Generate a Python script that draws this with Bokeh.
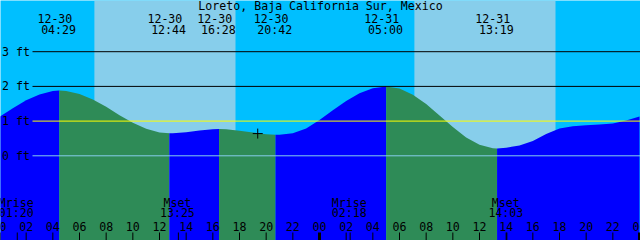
from bokeh.plotting import figure
from bokeh.models import Range1d
from bokeh.embed import file_html
from bokeh.resources import INLINE
from bokeh.core.properties import value

# ---------------- data ----------------
title = "Loreto, Baja California Sur, Mexico"
days = ["12-30", "12-31"]

# tide height (ft) at each whole hour since 12-30 00:00
hourly_heights = [1.12, 1.37, 1.60, 1.77, 1.87, 1.87, 1.78, 1.62, 1.41, 1.17,
                  0.95, 0.78, 0.67, 0.65, 0.68, 0.73, 0.765, 0.765, 0.72, 0.67,
                  0.62, 0.61, 0.65, 0.79, 1.03, 1.31, 1.58, 1.80, 1.95, 2.00,
                  1.94, 1.76, 1.49, 1.16, 0.83, 0.53, 0.32, 0.22, 0.23, 0.30,
                  0.43, 0.63, 0.79, 0.85, 0.88, 0.90, 0.93, 1.02, 1.13]

# high / low tide events
event_dates = ["12-30", "12-30", "12-30", "12-30", "12-31", "12-31"]
event_times = ["04:29", "12:44", "16:28", "20:42", "05:00", "13:19"]
event_levels = [1.88, 0.65, 0.77, 0.61, 2.00, 0.21]

# sun (daylight bands)
sun_dates = ["12-30", "12-31"]
sunrise_times = ["07:07", "07:07"]
sunset_times = ["17:42", "17:42"]

# moon events
moon_names = ["Mrise", "Mset", "Mrise", "Mset"]
moon_dates = ["12-30", "12-30", "12-31", "12-31"]
moon_times = ["01:20", "13:25", "02:18", "14:03"]

# current time marker
now_date, now_time, now_level = "12-30", "19:22", 0.64

# level lines
level_values = [0, 1, 2, 3]
level_labels = ["0 ft", "1 ft", "2 ft", "3 ft"]

tick_hours = list(range(0, 49, 2))
tick_labels = ["%02d" % (h % 24) for h in tick_hours]

# ---------------- styling / layout ----------------
NIGHT = "#00BFFF"
DAY = "#87CEEB"
EBB = "#2E8B57"
FLOOD = "#0000FF"
LEVEL_COLORS = ["#87CEEB", "#FFFF00", "#000000", "#000000"]
FONT = value("DejaVu Sans Mono")
FS = "11.6px"

W, H = 640, 240
PPH = 640 / 48.0          # pixels per hour
PPF = 34.7                # pixels per foot
X0 = 0.075
X1 = X0 + W / PPH
Y1 = 155.3 / PPF
Y0 = Y1 - H / PPF


def to_hours(d, hm):
    hh, mm = hm.split(":")
    return days.index(d) * 24 + int(hh) + int(mm) / 60.0


def ypx(px):
    return Y1 - px / PPF


event_hours = [to_hours(d, t) for d, t in zip(event_dates, event_times)]
sunrise_hours = [to_hours(d, t) for d, t in zip(sun_dates, sunrise_times)]
sunset_hours = [to_hours(d, t) for d, t in zip(sun_dates, sunset_times)]
moon_hours = [to_hours(d, t) for d, t in zip(moon_dates, moon_times)]

# merge hourly readings with event extremes
pts = {float(h): v for h, v in enumerate(hourly_heights)}
for h, v in zip(event_hours, event_levels):
    pts[h] = v
curve_t = sorted(pts)
curve_h = [pts[t] for t in curve_t]

p = figure(width=W, height=H, x_range=Range1d(X0, X1), y_range=Range1d(Y0, Y1),
           x_axis_type=None, y_axis_type=None, toolbar_location=None,
           output_backend="svg", min_border=0, outline_line_color=None,
           background_fill_color=NIGHT, border_fill_color=NIGHT)

# daylight bands
p.quad(left=sunrise_hours, right=sunset_hours, bottom=Y0, top=Y1,
       fill_color=DAY, line_color=None)

# water, coloured by rising / falling
bounds = [curve_t[0]] + event_hours + [curve_t[-1]]
for a, b in zip(bounds[:-1], bounds[1:]):
    seg_t = [t for t in curve_t if a <= t <= b]
    seg_h = [pts[t] for t in seg_t]
    col = FLOOD if seg_h[-1] > seg_h[0] else EBB
    p.varea(x=seg_t, y1=Y0, y2=seg_h, fill_color=col)

# level lines and labels
line_start = X0 + 32 / PPH
p.segment(x0=[line_start] * 4, x1=[X1] * 4, y0=level_values, y1=level_values,
          line_color=LEVEL_COLORS, line_width=1)
p.text(x=[X0] * 4, y=level_values, text=level_labels, x_offset=1.5,
       text_align="left", text_baseline="middle", text_font=FONT,
       text_font_size=FS, text_color="black")

# title
p.text(x=[(X0 + X1) / 2], y=[ypx(5.5)], text=[title], text_align="center",
       text_baseline="middle", text_font=FONT, text_font_size=FS, text_color="black")

# event labels
p.text(x=event_hours, y=[ypx(17.5)] * len(event_hours), text=event_dates,
       x_offset=-4.4, text_align="center", text_baseline="middle",
       text_font=FONT, text_font_size=FS, text_color="black")
p.text(x=event_hours, y=[ypx(29.5)] * len(event_hours), text=event_times,
       x_offset=-0.7, text_align="center", text_baseline="middle",
       text_font=FONT, text_font_size=FS, text_color="black")

# moon labels
p.text(x=moon_hours, y=[ypx(202)] * 4, text=moon_names, x_offset=-1,
       text_align="center", text_baseline="middle", text_font=FONT,
       text_font_size=FS, text_color="black")
p.text(x=moon_hours, y=[ypx(212.5)] * 4, text=moon_times, x_offset=-1,
       text_align="center", text_baseline="middle", text_font=FONT,
       text_font_size=FS, text_color="black")

# hour ticks
tick_widths = [3 if h % 24 == 0 else 1 for h in tick_hours]
p.segment(x0=tick_hours, x1=tick_hours, y0=[Y0] * len(tick_hours),
          y1=[ypx(232)] * len(tick_hours), line_color="black", line_width=tick_widths)
p.segment(x0=moon_hours, x1=moon_hours, y0=[Y0] * 4, y1=[ypx(232)] * 4,
          line_color="black", line_width=1)
p.text(x=tick_hours, y=[ypx(225.5)] * len(tick_hours), text=tick_labels,
       text_align="center", text_baseline="middle", text_font=FONT,
       text_font_size=FS, text_color="black")

# current time cross
p.scatter(x=[to_hours(now_date, now_time)], y=[now_level], marker="cross",
          size=10, line_color="black", line_width=1)

open("out.html", "w").write(file_html(p, INLINE))
